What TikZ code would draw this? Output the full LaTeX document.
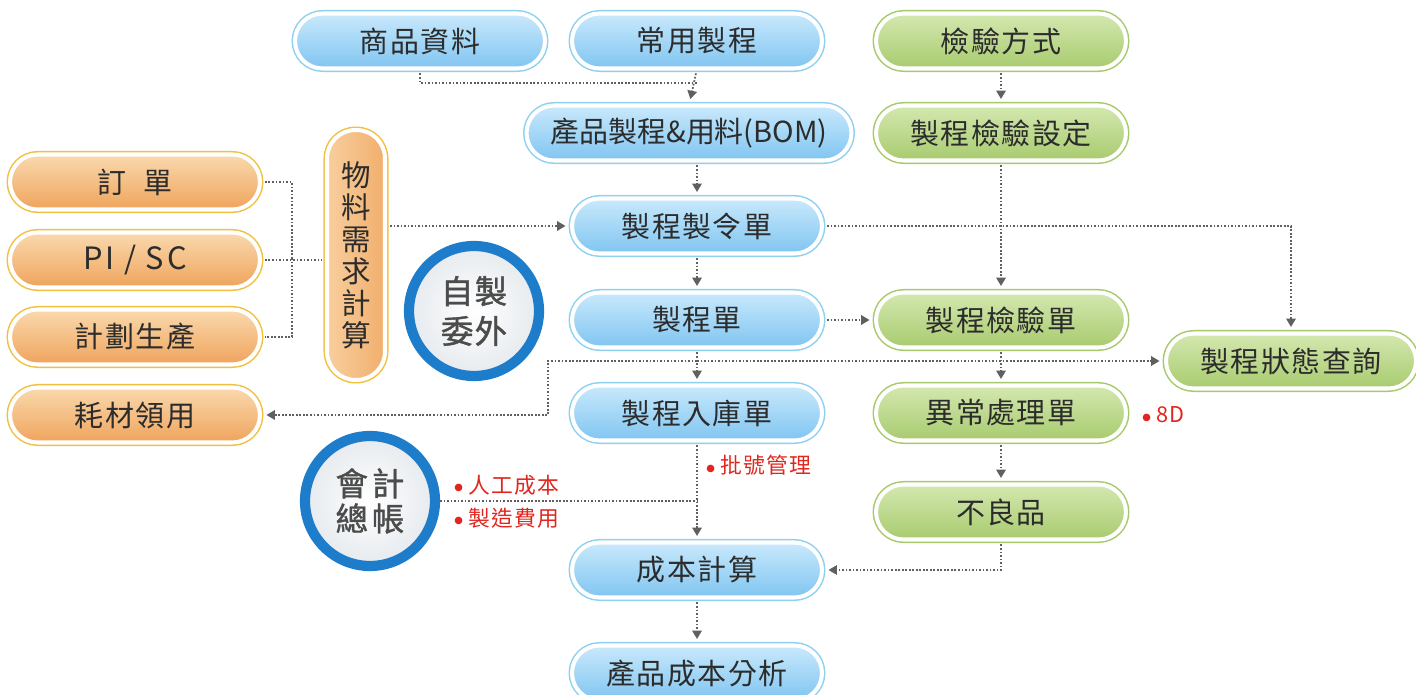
\documentclass[tikz,border=0pt]{standalone}
\usepackage{fontspec}
\setmainfont{Noto Sans CJK TC}
\newfontfamily\pillfont[LetterSpace=5]{Noto Sans CJK TC}
\newfontfamily\pifont[LetterSpace=9]{Noto Sans CJK TC}
\newfontfamily\bomfont[LetterSpace=0]{Noto Sans CJK TC}
\newfontfamily\circfont[FakeBold=1.2,LetterSpace=4]{Noto Sans CJK TC}
\newfontfamily\circfontb[FakeBold=1.2,LetterSpace=12]{Noto Sans CJK TC}
\newfontfamily\labfont[LetterSpace=5]{Noto Sans CJK TC}
\newfontfamily\dotfont{DejaVu Sans}
\usetikzlibrary{shapes.misc,arrows.meta,calc}
\definecolor{bluetop}{HTML}{C9E9FC}
\definecolor{bluebot}{HTML}{80C5F1}
\definecolor{blueedge}{HTML}{8ED0F0}
\definecolor{orgtop}{HTML}{FAD9AE}
\definecolor{orgbot}{HTML}{EFA45C}
\definecolor{orgedge}{HTML}{F2C040}
\definecolor{grntop}{HTML}{D4E8B0}
\definecolor{grnbot}{HTML}{A8CB6E}
\definecolor{grnedge}{HTML}{A6C96A}
\definecolor{ink}{HTML}{2C2C2C}
\definecolor{linec}{HTML}{606060}
\definecolor{ringblue}{HTML}{1E7DCB}
\definecolor{redlab}{HTML}{E0261E}
\definecolor{circin}{HTML}{E6EAEE}
\newcommand{\rdot}{{\dotfont\fontsize{5.6}{6}\selectfont\raisebox{1.3pt}{●}}\hspace{3.2pt}}
\tikzset{
  pillbase/.style={rounded rectangle, minimum height=1.1cm, minimum width=5.0cm,
    inner sep=0pt, outer sep=0pt, draw=white, line width=2.3pt, text=ink,
    font=\pillfont\fontsize{16.5}{18}\selectfont},
  bluepill/.style={pillbase, top color=bluetop, bottom color=bluebot,
    preaction={draw=blueedge, line width=4pt}},
  orgpill/.style={pillbase, top color=orgtop, bottom color=orgbot,
    preaction={draw=orgedge, line width=4pt}},
  grnpill/.style={pillbase, top color=grntop, bottom color=grnbot,
    preaction={draw=grnedge, line width=4pt}},
  vpill/.style={rectangle, rounded corners=0.57cm, minimum width=1.16cm, minimum height=5.0cm,
    inner sep=0pt, outer sep=0pt, draw=white, line width=2.3pt, text=ink,
    left color=orgtop!80!orgbot, right color=orgbot!80!orgtop,
    preaction={draw=orgedge, line width=4pt},
    font=\fontsize{16.8}{18.2}\selectfont, align=center},
  ring/.style={circle, minimum size=2.6cm, inner sep=0pt, outer sep=0pt,
    draw=ringblue, line width=5.8pt, inner color=white, outer color=circin,
    text=ink!85, align=center},
  redlabel/.style={anchor=west, text=redlab, inner sep=0pt,
    font=\labfont\fontsize{12.4}{14}\selectfont},
  conn/.style={draw=linec, line width=1pt, dash pattern=on 1pt off 1pt,
    -{Triangle[length=4.8pt,width=5.4pt]}, shorten >=0.13cm, shorten <=0.1cm},
  link/.style={draw=linec, line width=1pt, dash pattern=on 1pt off 1pt,
    shorten >=0.1cm, shorten <=0.1cm}
}
\begin{document}
\begin{tikzpicture}[x=0.02cm, y=-0.02cm]
\useasboundingbox (0,0) rectangle (1416,695);
% top row
\node[bluepill] (spzl) at (420,41) {商品資料};
\node[bluepill] (cyzc) at (697,41) {常用製程};
\node[grnpill]  (jyfs) at (1001,41) {檢驗方式};
\node[bluepill, minimum width=6.5cm, font=\bomfont\fontsize{16.5}{18}\selectfont] (bom) at (689,133) {產品製程\&用料(BOM)};
\node[grnpill]  (jysd) at (1001,133) {製程檢驗設定};
\node[bluepill] (zld)  at (697,226) {製程製令單};
% left column
\node[orgpill] (dd)   at (135,182) {訂\hspace{0.6em}單};
\node[orgpill, font=\pifont\fontsize{17.5}{18}\selectfont] (pisc) at (135,260) {PI / SC};
\node[orgpill] (jh)   at (135,337) {計劃生產};
\node[orgpill] (hc)   at (135,415) {耗材領用};
\node[vpill]   (wl)   at (356,255) {物\\料\\需\\求\\計\\算};
\node[ring, font=\circfont\fontsize{18.5}{22.7}\selectfont] (zzwx) at (474,311) {自製\\委外};
% middle
\node[bluepill] (zcd)  at (697,320) {製程單};
\node[grnpill]  (jyd)  at (1001,320) {製程檢驗單};
\node[grnpill]  (ztcx) at (1291,361) {製程狀態查詢};
\node[bluepill] (rkd)  at (697,413) {製程入庫單};
\node[grnpill]  (yc)   at (1001,413) {異常處理單};
\node[grnpill]  (blp)  at (1001,512) {不良品};
\node[ring, font=\circfontb\fontsize{18.5}{20}\selectfont] (kj) at (370,501) {會計\\總帳};
\node[bluepill] (cbjs) at (697,570) {成本計算};
\node[bluepill] (cpfx) at (697,673) {產品成本分析};
% labels
\node[redlabel] (l1) at (454,485) {\rdot 人工成本};
\node[redlabel] (l2) at (454,518) {\rdot 製造費用};
\node[redlabel] (l3) at (706,465) {\rdot 批號管理};
\node[redlabel] (l4) at (1142,415) {\rdot 8D};
% junctions
\coordinate (j1) at (697,83);
\coordinate (jA) at (292,258);
\coordinate (j2) at (697,361);
\coordinate (j3) at (548,361);
% connectors
\draw[link, shorten >=0pt] (spzl.south) |- (j1);
\draw[conn] (cyzc.south) -- (bom.north);
\draw[conn] (bom.south -| zld.north) -- (zld.north);
\draw[conn] (jyfs.south) -- (jysd.north);
\draw[conn] (jysd.south) -- (jyd.north);
\draw[link, shorten >=0pt] (dd.east) -| (jA);
\draw[link, shorten <=0pt] (jA) |- (jh.east);
\draw[link] (pisc.east) -- (pisc.east -| wl.west);
\draw[conn] (wl.east |- zld.west) -- (zld.west);
\draw[conn] (zld.east) -| (ztcx.north);
\draw[conn] (zld.south) -- (zcd.north);
\draw[conn] (zcd.east) -- (jyd.west);
\draw[conn] (zcd.south) -- (rkd.north);
\draw[conn, shorten <=0pt] (j2) -- (ztcx.west);
\draw[conn, shorten <=0pt] (j2) -- (j3) |- (hc.east);
\draw[conn] (jyd.south) -- (yc.north);
\draw[conn] (yc.south) -- (blp.north);
\draw[conn] (blp.south) |- (cbjs.east);
\draw[conn] (rkd.south) -- (cbjs.north);
\draw[link, shorten >=0pt] (kj.east) -- (kj.east -| rkd.south);
\draw[conn] (cbjs.south) -- (cpfx.north);
\end{tikzpicture}
\end{document}
